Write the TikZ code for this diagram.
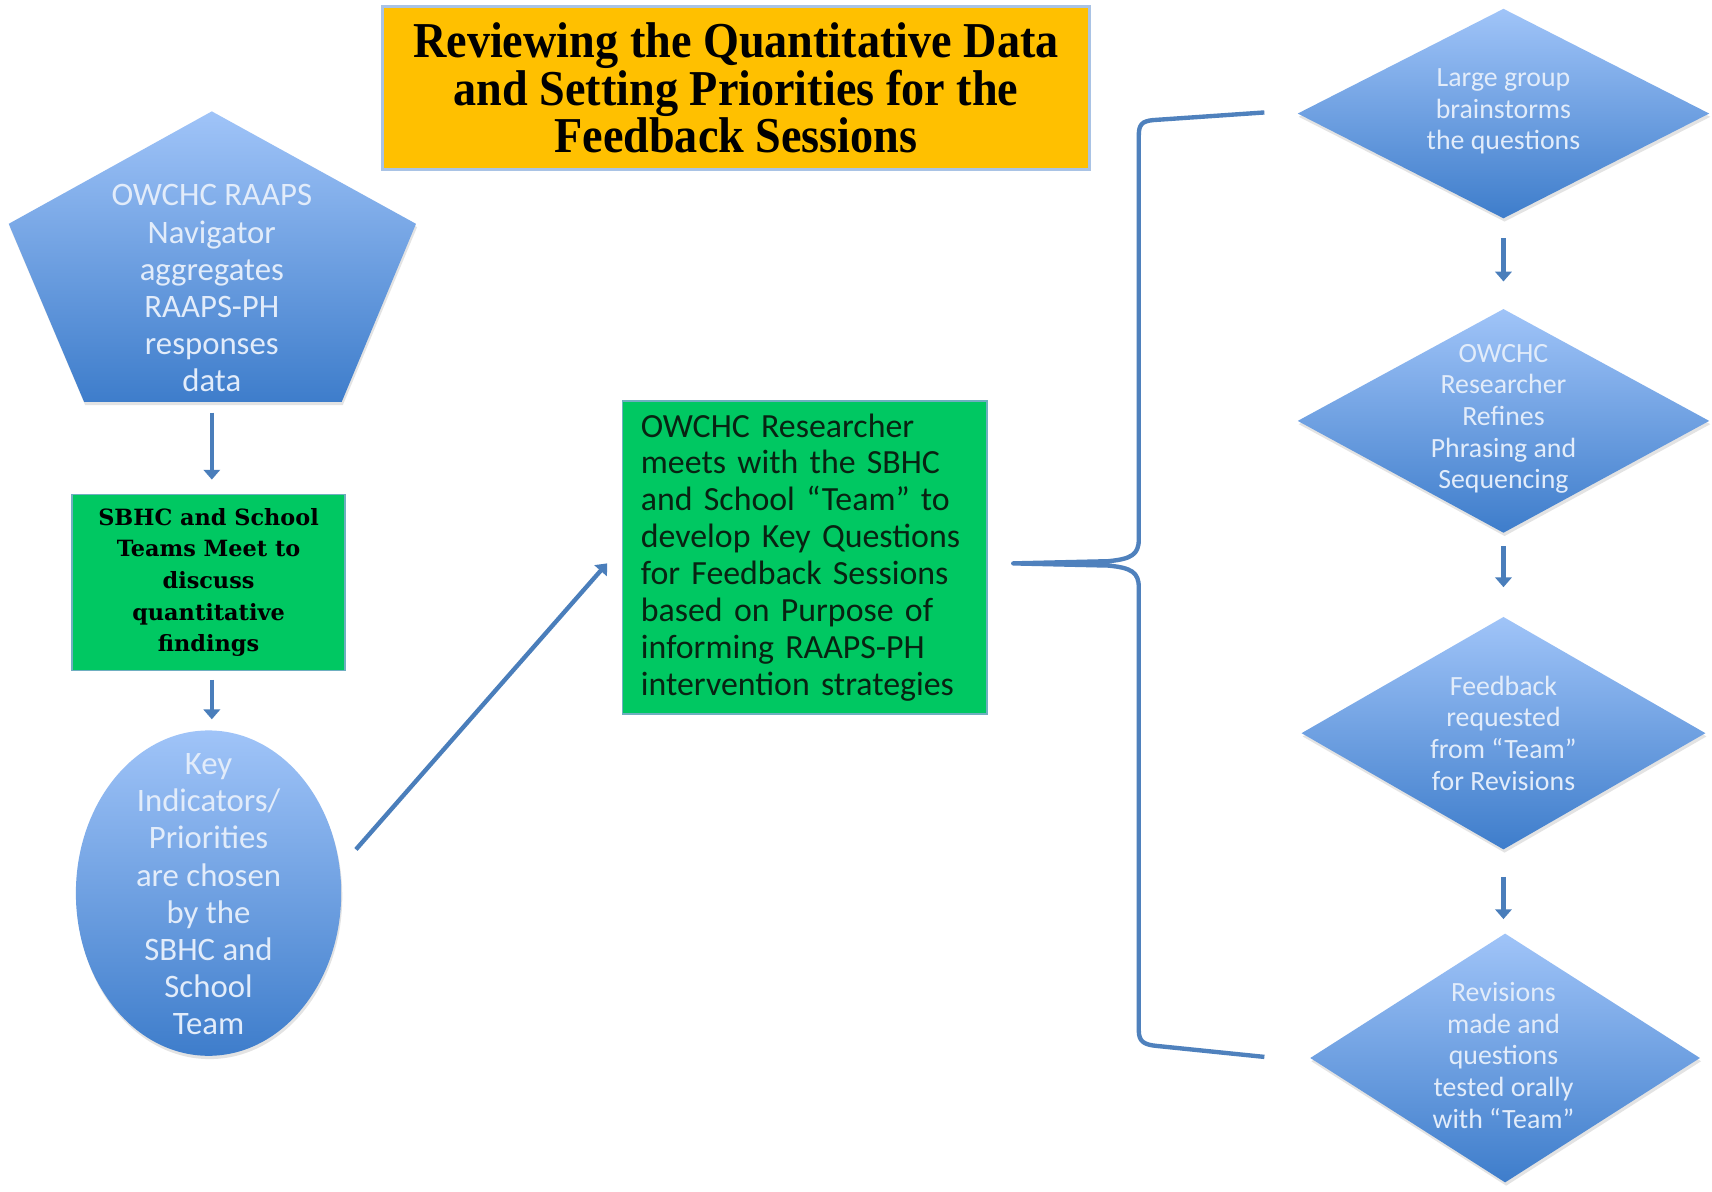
\documentclass[tikz,border=0pt]{standalone}
\usepackage{fontspec}
\setmainfont{Carlito}
\newfontfamily\titlefont[FakeStretch=0.92]{Liberation Serif}
\newfontfamily\boxfont{DejaVu Serif}
\usetikzlibrary{shapes.geometric,arrows.meta,shadows}
\definecolor{gold}{HTML}{FFC000}
\definecolor{titleborder}{HTML}{A9C3E5}
\definecolor{grn}{HTML}{00C862}
\definecolor{grnborder}{HTML}{6FAFC0}
\definecolor{bluetop}{HTML}{A0C4F8}
\definecolor{bluebot}{HTML}{3E7DCB}
\definecolor{shapetext}{HTML}{E2ECFA}
\definecolor{arrowblue}{HTML}{4A7EBB}
\definecolor{bracecol}{HTML}{4F81BD}
\definecolor{darktext}{HTML}{082312}
\begin{document}
\begin{tikzpicture}[x=1pt,y=-1pt,
  bluefill/.style={top color=bluetop, bottom color=bluebot, draw=none,
    drop shadow={opacity=0.22, shadow xshift=1pt, shadow yshift=-3pt}},
  shapetxt/.style={text=shapetext, align=center, inner sep=0pt,
    font=\fontsize{30}{34}\selectfont},
  diatxt/.style={text=shapetext, align=center, inner sep=0pt,
    font=\fontsize{25.5}{29}\selectfont},
  dia/.style={shape=diamond, bluefill, inner sep=0pt},
  arr/.style={draw=arrowblue, line width=4pt, -{Triangle[width=15pt,length=9pt]}},
  greenbox/.style={rectangle, fill=grn, draw=grnborder, line width=1.5pt}]
\useasboundingbox (0,0) rectangle (1568,1091);
\fill[white] (0,0) rectangle (1568,1091);

% title
\node[rectangle, fill=gold, draw=titleborder, line width=3pt,
  minimum width=648pt, minimum height=149pt, align=center, inner sep=0pt,
  font=\titlefont\bfseries\fontsize{46}{43.5}\selectfont, text=black]
  (title) at (674,80.5)
  {Reviewing the Quantitative Data\\and Setting Priorities for the\\Feedback Sessions};

% pentagon
\path[bluefill] (194,102) -- (381,205) -- (313,368) -- (77,368) -- (8,205) -- cycle;
\coordinate (pentbot) at (194,368);
\node[shapetxt] (pent) at (194,264)
  {OWCHC RAAPS\\Navigator\\aggregates\\RAAPS-PH\\responses\\data};

% green box 1
\node[greenbox, minimum width=250pt, minimum height=161pt, inner sep=0pt,
  align=center, font=\boxfont\bfseries\fontsize{20.5}{29}\selectfont, text=black]
  (g1) at (191,533.5)
  {SBHC and School\\Teams Meet to\\discuss\\quantitative\\findings};

% ellipse
\node[shape=ellipse, bluefill, minimum width=243pt, minimum height=298pt, inner sep=0pt]
  (ell) at (191,818) {};
\node[shapetxt] (ellt) at (191,819)
  {Key\\Indicators/\\Priorities\\are chosen\\by the\\SBHC and\\School\\Team};

% green box 2
\node[greenbox, minimum height=287pt, inner xsep=17pt, inner ysep=0pt,
  text width=300pt, align=left, font=\fontsize{31}{33.8}\selectfont, text=darktext]
  (g2) at (737,510.5)
  {OWCHC Researcher\\meets with the SBHC\\and School “Team” to\\develop Key Questions\\for Feedback Sessions\\based on Purpose of\\informing RAAPS-PH\\intervention strategies};

% diamonds
\node[dia, minimum width=377pt, minimum height=192pt] (d1) at (1377,104) {};
\node[diatxt] (d1t) at (1377,102) {Large group\\brainstorms\\the questions};
\node[dia, minimum width=377pt, minimum height=205pt] (d2) at (1377,385.5) {};
\node[diatxt] (d2t) at (1377,383.5) {OWCHC\\Researcher\\Refines\\Phrasing and\\Sequencing};
\node[dia, minimum width=370pt, minimum height=213pt] (d3) at (1377,671.5) {};
\node[diatxt] (d3t) at (1377,671.5) {Feedback\\requested\\from “Team”\\for Revisions};
\node[dia, minimum width=357pt, minimum height=228pt] (d4) at (1378.5,969) {};
\node[diatxt] (d4t) at (1377,966.5) {Revisions\\made and\\questions\\tested orally\\with “Team”};

% arrows
\draw[arr, shorten <=10pt, shorten >=13pt] (pentbot) -- (pentbot |- g1.north);
\draw[arr, shorten <=8pt, shorten >=10pt] (g1.south -| pentbot) -- (ell.north -| pentbot);
\coordinate (a1) at (326,778);
\coordinate (a2) at (556,516);
\draw[arr] (a1) -- (a2);
\draw[arr, shorten <=18pt, shorten >=25pt] (d1.south) -- (d2.north);
\draw[arr, shorten <=12pt, shorten >=27pt] (d2.south) -- (d3.north);
\draw[arr, shorten <=25pt, shorten >=13pt] (d3.south) -- (d4.north -| d3.south);

% brace
\coordinate (btop) at (1158,103);
\coordinate (bbot) at (1158,968);
\coordinate (btip) at (928,516);
\draw[draw=bracecol, line width=4pt, line join=round]
  (btop) -- (1056,110) .. controls (1046,111) and (1043,114) .. (1043,124)
  -- (1043,494) .. controls (1043,508) and (1036,512) .. (1015,514) -- (btip)
  -- (1015,518) .. controls (1036,520) and (1043,524) .. (1043,538)
  -- (1043,944) .. controls (1043,954) and (1048,957) .. (1060,958) -- (bbot);
\end{tikzpicture}
\end{document}
